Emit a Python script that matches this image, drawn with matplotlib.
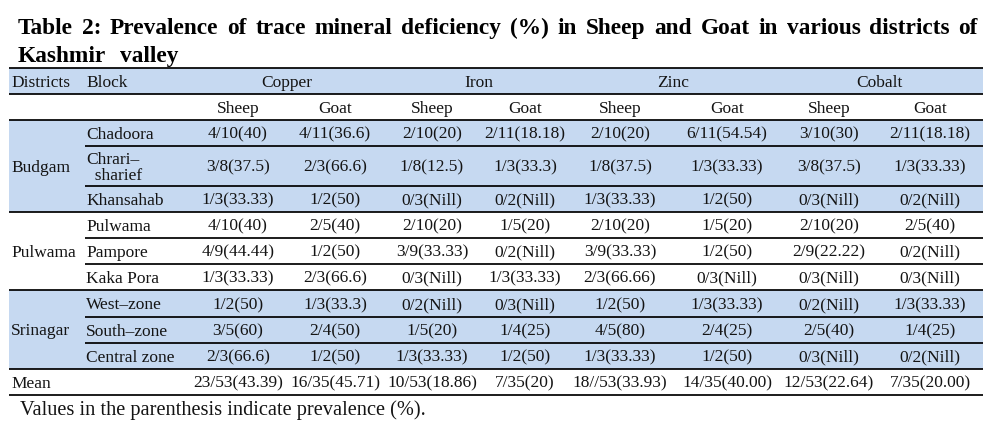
import matplotlib
matplotlib.use("Agg")
import matplotlib.pyplot as plt
from matplotlib.patches import Rectangle

# ---------------- data ----------------
title_line1 = "Table 2: Prevalence of trace mineral deficiency (%) in Sheep and Goat in various districts of"
title_line2 = "Kashmir valley"
footnote = "Values in the parenthesis indicate prevalence (%)."

header_districts = "Districts"
header_block = "Block"
minerals = ["Copper", "Iron", "Zinc", "Cobalt"]
species = ["Sheep", "Goat"]

districts = ["Budgam", "Pulwama", "Srinagar"]
blocks = [["Chadoora", "Chrari\u2013\n  sharief", "Khansahab"],
          ["Pulwama", "Pampore", "Kaka Pora"],
          ["West\u2013zone", "South\u2013zone", "Central zone"]]
mean_label = "Mean"

copper_sheep = ["4/10(40)", "3/8(37.5)", "1/3(33.33)", "4/10(40)", "4/9(44.44)",
                "1/3(33.33)", "1/2(50)", "3/5(60)", "2/3(66.6)", "23/53(43.39)"]
copper_goat = ["4/11(36.6)", "2/3(66.6)", "1/2(50)", "2/5(40)", "1/2(50)",
               "2/3(66.6)", "1/3(33.3)", "2/4(50)", "1/2(50)", "16/35(45.71)"]
iron_sheep = ["2/10(20)", "1/8(12.5)", "0/3(Nill)", "2/10(20)", "3/9(33.33)",
              "0/3(Nill)", "0/2(Nill)", "1/5(20)", "1/3(33.33)", "10/53(18.86)"]
iron_goat = ["2/11(18.18)", "1/3(33.3)", "0/2(Nill)", "1/5(20)", "0/2(Nill)",
             "1/3(33.33)", "0/3(Nill)", "1/4(25)", "1/2(50)", "7/35(20)"]
zinc_sheep = ["2/10(20)", "1/8(37.5)", "1/3(33.33)", "2/10(20)", "3/9(33.33)",
              "2/3(66.66)", "1/2(50)", "4/5(80)", "1/3(33.33)", "18//53(33.93)"]
zinc_goat = ["6/11(54.54)", "1/3(33.33)", "1/2(50)", "1/5(20)", "1/2(50)",
             "0/3(Nill)", "1/3(33.33)", "2/4(25)", "1/2(50)", "14/35(40.00)"]
cobalt_sheep = ["3/10(30)", "3/8(37.5)", "0/3(Nill)", "2/10(20)", "2/9(22.22)",
                "0/3(Nill)", "0/2(Nill)", "2/5(40)", "0/3(Nill)", "12/53(22.64)"]
cobalt_goat = ["2/11(18.18)", "1/3(33.33)", "0/2(Nill)", "2/5(40)", "0/2(Nill)",
               "0/3(Nill)", "1/3(33.33)", "1/4(25)", "0/2(Nill)", "7/35(20.00)"]

value_columns = [copper_sheep, copper_goat, iron_sheep, iron_goat,
                 zinc_sheep, zinc_goat, cobalt_sheep, cobalt_goat]

# ---------------- layout (pixel space) ----------------
W, H = 998, 425
fig = plt.figure(figsize=(W / 100, H / 100), dpi=100)
ax = fig.add_axes([0, 0, 1, 1])
ax.set_xlim(0, W)
ax.set_ylim(H, 0)
ax.axis("off")

SERIF = ["Liberation Serif", "DejaVu Serif"]
TXT = "#141414"
SHADE = "#C6D9F1"
FS = 12.5

x_left, x_right, x_block = 9, 983, 85
col_centers = [238, 335, 432, 525, 620, 727, 829, 930]

# row boundaries: header1, header2, 9 block rows, mean
row_edges = [68, 94, 120, 146, 186, 212, 238, 264, 290, 317, 343, 369, 395]

def row_mid(i):
    return (row_edges[i] + row_edges[i + 1]) / 2

def put(x, y, s, ha="center", fs=FS, **kw):
    ax.text(x, y + 5.6, s, ha=ha, va="baseline", fontsize=fs,
            family=SERIF, color=TXT, **kw)

# shading
shaded_rows = [(0, 1), (2, 5), (8, 11)]
for a, b in shaded_rows:
    ax.add_patch(Rectangle((x_left, row_edges[a]), x_right - x_left,
                           row_edges[b] - row_edges[a], color=SHADE, lw=0, zorder=0))

# horizontal lines
LW = 1.25
full_lines = [0, 1, 2, 5, 8, 11, 12]
for i in full_lines:
    ax.plot([x_left, x_right], [row_edges[i]] * 2, color="black", lw=LW,
            solid_capstyle="butt")
for i in [3, 4, 6, 7, 9, 10]:
    ax.plot([x_block, x_right], [row_edges[i]] * 2, color="black", lw=LW,
            solid_capstyle="butt")

# header
put(11, row_mid(0), header_districts, ha="left")
put(86, row_mid(0), header_block, ha="left")
for k, m in enumerate(minerals):
    cx = (col_centers[2 * k] + col_centers[2 * k + 1]) / 2
    put(cx, row_mid(0), m)
for k in range(len(minerals)):
    for j, sp in enumerate(species):
        put(col_centers[2 * k + j], row_mid(1), sp)

# body
r = 2
for d, dname in enumerate(districts):
    put(11, (row_edges[r] + row_edges[r + 3]) / 2, dname, ha="left")
    for b, bname in enumerate(blocks[d]):
        ri = r + b
        if "\n" in bname:
            l1, l2 = bname.split("\n")
            put(86, row_mid(ri) - 8, l1, ha="left")
            put(86, row_mid(ri) + 8.5, l2, ha="left")
        else:
            put(86, row_mid(ri), bname, ha="left")
        vi = d * 3 + b
        for c, col in enumerate(value_columns):
            put(col_centers[c], row_mid(ri), col[vi])
    r += 3

# mean row
put(11, row_mid(11), mean_label, ha="left")
for c, col in enumerate(value_columns):
    put(col_centers[c], row_mid(11), col[-1])

# footnote
ax.text(20, 415, footnote, ha="left", va="baseline", fontsize=14.7,
        family=SERIF, color=TXT)

# title (justified first line)
TFS = 16.8
renderer = fig.canvas.get_renderer()
words = title_line1.split(" ")
arts = [ax.text(0, 34, w, ha="left", va="baseline", fontsize=TFS, family=SERIF,
                weight="bold", color="black") for w in words]
widths = [a.get_window_extent(renderer).width for a in arts]
tx0, tx1 = 18, 978
gap = (tx1 - tx0 - sum(widths)) / (len(words) - 1)
x = tx0
for a, w in zip(arts, widths):
    a.set_x(x)
    x += w + gap
w2 = title_line2.split(" ")
a1 = ax.text(tx0, 62, w2[0], ha="left", va="baseline", fontsize=TFS,
             family=SERIF, weight="bold", color="black")
ww = a1.get_window_extent(renderer).width
ax.text(tx0 + ww + 14, 62, w2[1], ha="left", va="baseline", fontsize=TFS,
        family=SERIF, weight="bold", color="black")

fig.savefig("out.png", dpi=100)
